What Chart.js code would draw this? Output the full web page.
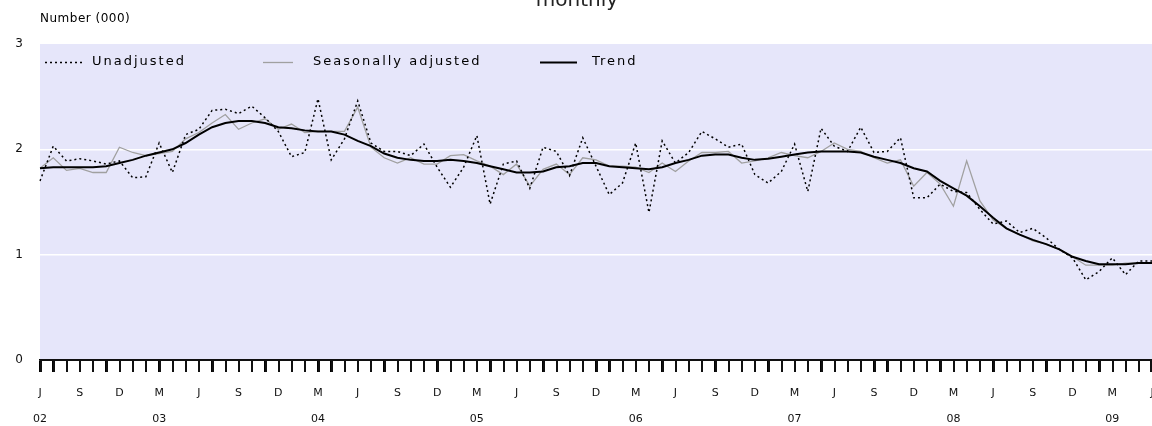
<!DOCTYPE html>
<html>
<head>
<meta charset="utf-8">
<script src="https://cdn.jsdelivr.net/npm/chart.js@4.4.0/dist/chart.umd.min.js"></script>
<style>
html, body { margin: 0; padding: 0; background: #ffffff; }
#contenedor { width: 1152px; height: 426px; }
</style>
</head>
<body>
<div id="contenedor"><canvas id="grafica" width="1152" height="426"></canvas></div>
<script>
// datos (miles), mensual desde junio 2002 hasta junio 2009
var monthLetters = ['J', 'F', 'M', 'A', 'M', 'J', 'J', 'A', 'S', 'O', 'N', 'D'];
var yearLabels = ['02', '03', '04', '05', '06', '07', '08', '09'];
var firstMonth = 5; // junio
var yTicks = [0, 1, 2, 3];

var unadjusted = [
    1.70, 2.03, 1.89, 1.91, 1.89, 1.86, 1.89, 1.73, 1.74, 2.06,
    1.78, 2.14, 2.19, 2.37, 2.38, 2.34, 2.41, 2.30, 2.17, 1.93,
    1.97, 2.48, 1.90, 2.10, 2.46, 2.06, 1.98,
    1.98, 1.94, 2.05, 1.83, 1.64, 1.83, 2.13, 1.48, 1.86, 1.89,
    1.63, 2.02, 1.98, 1.75, 2.11, 1.84, 1.57, 1.68, 2.06, 1.40,
    2.08, 1.87, 1.97, 2.17, 2.10, 2.02, 2.05, 1.76, 1.68,
    1.79, 2.05, 1.60, 2.20, 2.03, 1.98, 2.21, 1.97, 1.98, 2.11,
    1.54, 1.54, 1.67, 1.60, 1.59, 1.43, 1.29, 1.32, 1.21, 1.25,
    1.16, 1.05, 0.97, 0.76, 0.84, 0.97, 0.81, 0.94, 0.94
];

var seasonallyAdjusted = [
    1.82, 1.92, 1.80, 1.82, 1.78, 1.78, 2.02, 1.97, 1.94, 1.96,
    1.98, 2.10, 2.16, 2.25, 2.33, 2.19, 2.25, 2.29, 2.19, 2.24,
    2.16, 2.17, 2.17, 2.17, 2.40, 2.02, 1.92,
    1.87, 1.92, 1.86, 1.86, 1.94, 1.95, 1.89, 1.84, 1.76, 1.86,
    1.65, 1.81, 1.86, 1.76, 1.92, 1.90, 1.84, 1.84, 1.83, 1.78,
    1.87, 1.79, 1.89, 1.97, 1.97, 1.98, 1.87, 1.89, 1.92,
    1.97, 1.94, 1.92, 1.98, 2.06, 2.00, 1.98, 1.92, 1.87, 1.90,
    1.65, 1.78, 1.67, 1.46, 1.89, 1.51, 1.33, 1.25, 1.19, 1.13,
    1.10, 1.05, 0.98, 0.90, 0.90, 0.90, 0.92, 0.92, 0.92
];

var trend = [
    1.82, 1.83, 1.83, 1.83, 1.83, 1.84, 1.87, 1.90, 1.94, 1.97,
    2.00, 2.06, 2.14, 2.21, 2.25, 2.27, 2.27, 2.25, 2.21, 2.20,
    2.18, 2.17, 2.17, 2.14, 2.08, 2.03, 1.96,
    1.92, 1.90, 1.89, 1.89, 1.90, 1.89, 1.87, 1.84, 1.81, 1.78,
    1.78, 1.79, 1.83, 1.84, 1.87, 1.87, 1.84, 1.83, 1.82, 1.81,
    1.83, 1.87, 1.90, 1.94, 1.95, 1.95, 1.92, 1.90, 1.91,
    1.93, 1.95, 1.97, 1.98, 1.98, 1.98, 1.97, 1.93, 1.90, 1.87,
    1.82, 1.79, 1.70, 1.63, 1.56, 1.46, 1.35, 1.25, 1.19, 1.14,
    1.10, 1.05, 0.98, 0.94, 0.91, 0.91, 0.91, 0.92, 0.92
];

// categorias: una por mes
var categories = [];
for (var i = 0; i < trend.length; i++) {
    categories.push(monthLetters[(firstMonth + i) % 12] + ' ' + yearLabels[Math.floor((firstMonth + i) / 12)]);
}

var fuente = "'DejaVu Sans', 'Liberation Sans', sans-serif";

// fondo lila del area del grafico
var fondoPlugin = {
    id: 'fondo',
    beforeDraw: function(chart) {
        var a = chart.chartArea;
        var ctx = chart.ctx;
        ctx.save();
        ctx.fillStyle = '#e6e6fa';
        ctx.fillRect(a.left, a.top, a.right - a.left, a.bottom - a.top);
        ctx.restore();
    }
};

// leyenda dentro del area y textos sueltos
var leyendaPlugin = {
    id: 'leyenda',
    afterDraw: function(chart) {
        var ctx = chart.ctx;
        var ds = chart.data.datasets;
        var items = [
            { d: ds[1], x1: 45, x2: 84, tx: 92 },
            { d: ds[2], x1: 263, x2: 293, tx: 313 },
            { d: ds[0], x1: 540, x2: 577, tx: 592 }
        ];
        var yl = 62;
        for (var k = 0; k < items.length; k++) {
            var it = items[k];
            ctx.save();
            ctx.beginPath();
            ctx.strokeStyle = it.d.borderColor;
            ctx.lineWidth = it.d.borderWidth;
            ctx.setLineDash(it.d.borderDash || []);
            ctx.moveTo(it.x1, yl + 0.5);
            ctx.lineTo(it.x2, yl + 0.5);
            ctx.stroke();
            ctx.restore();
            ctx.save();
            ctx.fillStyle = '#000';
            ctx.font = '13px ' + fuente;
            ctx.letterSpacing = '2px';
            ctx.textBaseline = 'middle';
            ctx.fillText(it.d.label, it.tx, yl);
            ctx.restore();
        }
        ctx.save();
        ctx.fillStyle = '#000';
        ctx.letterSpacing = '0.5px';
        ctx.font = '12px ' + fuente;
        ctx.textBaseline = 'middle';
        ctx.fillText('Number (000)', 40, 19);
        ctx.restore();
        // titulo cortado arriba
        ctx.save();
        ctx.font = '20px ' + fuente;
        ctx.textAlign = 'center';
        ctx.fillStyle = '#222';
        ctx.fillText('monthly', 577, 6);
        ctx.restore();
    }
};

// linea del eje y una marca por mes, con las posiciones de la escala x
var ejePlugin = {
    id: 'ejeX',
    afterDraw: function(chart) {
        var ctx = chart.ctx;
        var sx = chart.scales.x;
        var a = chart.chartArea;
        var base = Math.floor(a.bottom);
        ctx.save();
        ctx.fillStyle = '#101010';
        ctx.fillRect(a.left, base - 1, a.right - a.left, 2);
        for (var k = 0; k < sx.ticks.length; k++) {
            var px = Math.min(Math.floor(sx.getPixelForTick(k)), chart.width - 2);
            ctx.fillRect(px, base, 2, 12);
        }
        ctx.restore();
    }
};

new Chart(document.getElementById('grafica'), {
    type: 'line',
    data: {
        labels: categories,
        datasets: [
            {
                label: 'Trend',
                data: trend,
                borderColor: '#000000',
                borderWidth: 2,
                pointRadius: 0,
                tension: 0
            },
            {
                label: 'Unadjusted',
                data: unadjusted,
                borderColor: '#000000',
                borderWidth: 1.5,
                borderDash: [2, 3],
                pointRadius: 0,
                tension: 0
            },
            {
                label: 'Seasonally adjusted',
                data: seasonallyAdjusted,
                borderColor: '#a0a0a0',
                borderWidth: 1.3,
                pointRadius: 0,
                tension: 0
            }
        ]
    },
    options: {
        responsive: false,
        animation: false,
        layout: { padding: { top: 44, left: 0, right: 0, bottom: 0 } },
        plugins: { legend: { display: false }, tooltip: { enabled: false } },
        scales: {
            x: {
                offset: false,
                afterFit: function(scale) {
                    scale.height = 66;
                    scale.paddingLeft = 0;
                    scale.paddingRight = 0;
                },
                grid: { drawOnChartArea: false, tickLength: 12, color: '#000', lineWidth: 1.5 },
                border: { display: true, color: '#000', width: 1.5 },
                ticks: {
                    autoSkip: false,
                    maxRotation: 0,
                    padding: 8,
                    color: '#111',
                    font: { family: fuente, size: 11, lineHeight: 2.4 },
                    callback: function(value, index) {
                        var m = (firstMonth + index) % 12;
                        var y = Math.floor((firstMonth + index) / 12);
                        if (m % 3 !== 2) return '';
                        if (m === 2 || index === 0) return [monthLetters[m], yearLabels[y]];
                        return monthLetters[m];
                    }
                }
            },
            y: {
                min: yTicks[0],
                max: yTicks[yTicks.length - 1],
                afterFit: function(scale) {
                    scale.width = 40;
                    scale.paddingTop = 0;
                    scale.paddingBottom = 0;
                },
                afterBuildTicks: function(scale) {
                    scale.ticks = yTicks.map(function(v) { return { value: v }; });
                },
                grid: {
                    drawTicks: false,
                    lineWidth: 1.5,
                    color: function(c) {
                        if (!c.tick || c.tick.value === 0 || c.tick.value === 3) return 'rgba(0,0,0,0)';
                        return '#ffffff';
                    }
                },
                border: { display: false },
                ticks: { padding: 17, color: '#111', font: { family: fuente, size: 12 } }
            }
        }
    },
    plugins: [fondoPlugin, leyendaPlugin, ejePlugin]
});
</script>
</body>
</html>
